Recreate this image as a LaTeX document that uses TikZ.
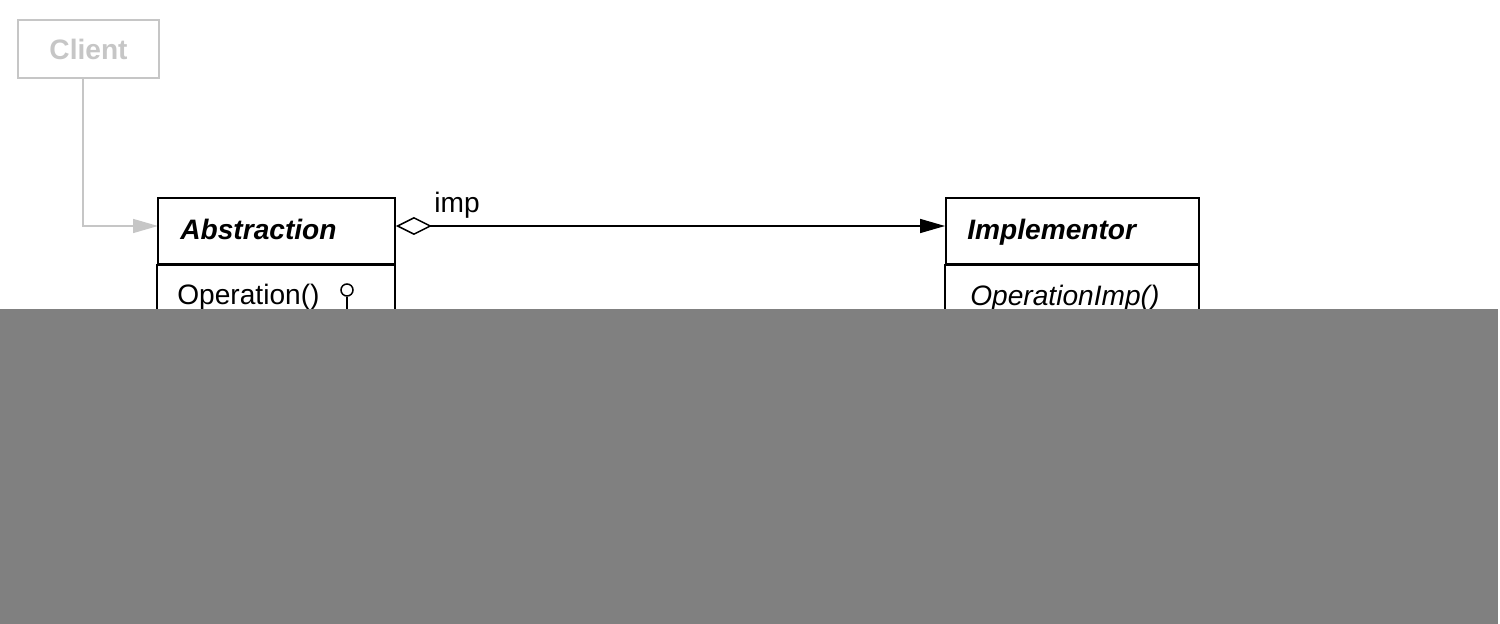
\documentclass[tikz,border=0pt]{standalone}
\usepackage{fontspec}
\setmainfont{Liberation Sans}
\usetikzlibrary{arrows.meta}

\definecolor{faded}{HTML}{C6C6C6}
\definecolor{cover}{HTML}{808080}

\tikzset{
  classhead/.style={draw, line width=1.1pt, minimum width=#1, minimum height=1.32cm, inner sep=0pt},
  classbody/.style={draw, line width=1.1pt},
  label/.style={anchor=base west, inner sep=0pt, font=\fontsize{16}{19}\selectfont},
  link/.style={line width=0.85pt},
}

\begin{document}
\begin{tikzpicture}[x=0.02cm, y=-0.02cm]
  \useasboundingbox (0,0) rectangle (1500,624);

  % -- Client (faded) --
  \node[draw=faded, line width=1.1pt, minimum width=2.82cm, minimum height=1.16cm,
        text=faded, font=\fontsize{16}{19}\selectfont\bfseries] (client) at (88.5,49) {Client};
  \coordinate (bend) at (83,226);
  \draw[link, faded, -{Triangle[length=0.5cm, width=0.28cm]}]
    (client.south -| bend) |- (158,226);

  % -- Abstraction --
  \node[classhead=4.74cm] (abs) at (276.5,231) {};
  \draw[classbody] (abs.south west) rectangle (395,420);
  \node[label, font=\fontsize{16}{19}\selectfont\bfseries\itshape] (absname) at (180,240) {Abstraction};
  \node[label] (absop) at (177,305) {Operation()};
  \node[circle, draw, line width=0.85pt, minimum size=0.24cm, inner sep=0pt] (note) at (347,290) {};
  \draw[link] (note.south) -- ++(0,30);

  % -- Implementor --
  \node[classhead=5.06cm] (imp) at (1072.5,231) {};
  \draw[classbody] (imp.south west) rectangle (1199,420);
  \node[label, font=\fontsize{16}{19}\selectfont\bfseries\itshape] (impname) at (967,240) {Implementor};
  \node[label, font=\fontsize{16}{19}\selectfont\itshape] (impop) at (970,306) {OperationImp()};

  % -- imp aggregation --
  \draw[link, {Diamond[open, length=0.72cm, width=0.36cm]}-{Triangle[length=0.5cm, width=0.28cm]}]
    (abs.east |- bend) -- (imp.west |- bend);
  \node[label] (implabel) at (434,213) {imp};

  % -- grey cover --
  \fill[cover] (0,309) rectangle (1498,624);

\end{tikzpicture}
\end{document}
